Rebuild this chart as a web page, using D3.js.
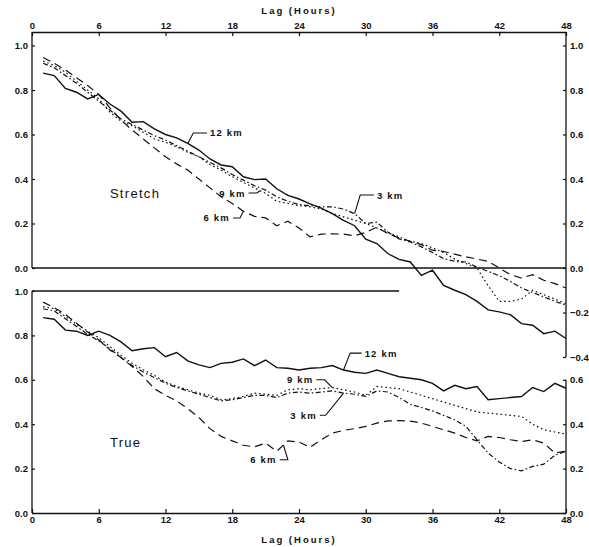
<!DOCTYPE html>
<html>
<head>
<meta charset="utf-8">
<script src="https://cdn.jsdelivr.net/npm/d3@7"></script>
<style>
  body { margin: 0; background: #fff; }
  text { font-family: "Liberation Sans", "DejaVu Sans", sans-serif; fill: #111; }
  .tick text { font-size: 9.5px; font-weight: bold; }
  .tick line { stroke: #111; stroke-width: 1.2; }
</style>
</head>
<body>
<div id="chart"></div>
<script>
var w = 589, h = 547;

// lag in hours, 1..48
var lags = d3.range(1, 49);
var hourTicks = [0, 6, 12, 18, 24, 30, 36, 42, 48];

// "Stretch" panel
var stretch12 = [0.876,0.865,0.807,0.79,0.76,0.78,0.737,0.705,0.655,0.658,0.625,0.60,0.585,0.56,0.53,0.49,0.463,0.455,0.41,0.397,
  0.40,0.356,0.326,0.31,0.288,0.269,0.244,0.214,0.19,0.13,0.11,0.064,0.039,0.027,-0.033,-0.01,-0.078,-0.10,-0.12,-0.15,
  -0.188,-0.197,-0.21,-0.25,-0.257,-0.295,-0.284,-0.317];
var stretch9 = [0.93,0.91,0.88,0.84,0.80,0.76,0.70,0.66,0.64,0.61,0.58,0.565,0.545,0.52,0.50,0.465,0.44,0.41,0.385,0.36,
  0.335,0.30,0.29,0.28,0.275,0.265,0.245,0.23,0.215,0.20,0.18,0.16,0.14,0.12,0.11,0.09,0.07,0.04,0.02,0.0,
  -0.08,-0.15,-0.15,-0.14,-0.10,-0.12,-0.14,-0.16];
var stretch6 = [0.946,0.92,0.89,0.855,0.82,0.78,0.72,0.665,0.62,0.58,0.54,0.50,0.468,0.44,0.40,0.36,0.32,0.29,0.255,0.232,
  0.225,0.19,0.21,0.18,0.14,0.152,0.154,0.152,0.145,0.16,0.184,0.154,0.135,0.12,0.105,0.08,0.074,0.062,0.05,0.04,
  0.03,0.0,-0.03,-0.045,-0.03,-0.055,-0.07,-0.09];
var stretch3 = [0.92,0.90,0.865,0.83,0.79,0.75,0.71,0.67,0.645,0.62,0.595,0.575,0.55,0.525,0.50,0.475,0.45,0.42,0.395,0.37,
  0.35,0.32,0.30,0.285,0.28,0.275,0.275,0.265,0.244,0.20,0.206,0.161,0.131,0.117,0.095,0.07,0.042,0.03,0.027,0.004,
  -0.015,-0.035,-0.06,-0.09,-0.11,-0.13,-0.15,-0.167];

// "True" panel
var true12 = [0.88,0.873,0.824,0.819,0.80,0.819,0.80,0.771,0.731,0.74,0.745,0.704,0.723,0.685,0.667,0.655,0.674,0.679,0.694,0.664,
  0.689,0.655,0.652,0.644,0.652,0.655,0.664,0.644,0.634,0.629,0.644,0.629,0.614,0.607,0.60,0.584,0.55,0.575,0.56,0.57,
  0.51,0.515,0.52,0.525,0.565,0.547,0.584,0.562];
var true9 = [0.93,0.92,0.885,0.85,0.82,0.79,0.75,0.71,0.675,0.645,0.62,0.59,0.57,0.555,0.54,0.53,0.51,0.515,0.525,0.54,
  0.535,0.53,0.555,0.56,0.555,0.56,0.565,0.555,0.545,0.53,0.57,0.565,0.56,0.545,0.53,0.515,0.50,0.485,0.47,0.455,
  0.45,0.445,0.44,0.435,0.40,0.375,0.365,0.355];
var true6 = [0.95,0.925,0.895,0.855,0.815,0.78,0.735,0.70,0.66,0.615,0.56,0.53,0.505,0.47,0.43,0.38,0.345,0.325,0.305,0.298,
  0.315,0.278,0.325,0.32,0.296,0.33,0.36,0.372,0.38,0.39,0.405,0.415,0.416,0.414,0.405,0.39,0.375,0.36,0.34,0.325,
  0.345,0.34,0.33,0.322,0.33,0.315,0.27,0.278];
var true3 = [0.92,0.91,0.875,0.84,0.805,0.775,0.74,0.70,0.665,0.635,0.61,0.585,0.565,0.55,0.535,0.52,0.505,0.51,0.52,0.53,
  0.53,0.52,0.54,0.545,0.54,0.545,0.55,0.54,0.535,0.525,0.55,0.545,0.52,0.49,0.475,0.46,0.44,0.42,0.39,0.33,
  0.27,0.23,0.20,0.19,0.21,0.22,0.26,0.278];

var styles = {
  "12 km": "none",
  "9 km": "1.6,2.8",
  "6 km": "8,5",
  "3 km": "5,2.5,1.5,2.5"
};

var svg = d3.select("#chart").append("svg")
  .attr("width", w)
  .attr("height", h);

var x = d3.scaleLinear().domain([0, 48]).range([32, 566]);
var yTop = d3.scaleLinear().domain([0, 1]).range([268, 45.5]);
var yBot = d3.scaleLinear().domain([0, 1]).range([513, 291]);

function drawSeries(values, yScale, name) {
  var line = d3.line()
    .x(function(d, i) { return x(lags[i]); })
    .y(function(d) { return yScale(d); });
  svg.append("path")
    .datum(values)
    .attr("d", line)
    .attr("fill", "none")
    .attr("stroke", "#111")
    .attr("stroke-width", name == "12 km" ? 1.4 : 1.2)
    .attr("stroke-dasharray", styles[name]);
}

drawSeries(stretch12, yTop, "12 km");
drawSeries(stretch9, yTop, "9 km");
drawSeries(stretch6, yTop, "6 km");
drawSeries(stretch3, yTop, "3 km");
drawSeries(true12, yBot, "12 km");
drawSeries(true9, yBot, "9 km");
drawSeries(true6, yBot, "6 km");
drawSeries(true3, yBot, "3 km");

// axis frame lines
function hline(y, x0, x1) {
  svg.append("line").attr("x1", x(x0)).attr("x2", x(x1)).attr("y1", y).attr("y2", y)
    .attr("stroke", "#111").attr("stroke-width", 1.3);
}
function vline(xp, y0, y1) {
  svg.append("line").attr("x1", xp).attr("x2", xp).attr("y1", y0).attr("y2", y1)
    .attr("stroke", "#111").attr("stroke-width", 1.3);
}
hline(yTop(0), 0, 48);   // zero line of upper panel
hline(yBot(1), 0, 33);   // top of lower panel
vline(x(0), 32, yTop(0));
vline(x(48), 32, yTop(-0.4));
vline(x(0), yBot(1), yBot(0));
vline(x(48), yBot(0.6), yBot(0));

var fmt = d3.format(".1f");

var topAxis = svg.append("g")
  .attr("transform", "translate(0,32)")
  .call(d3.axisTop(x).tickValues(hourTicks).tickSizeInner(-4).tickSizeOuter(0).tickPadding(3));
topAxis.select(".domain").attr("stroke", "#111").attr("stroke-width", 1.3);

var botAxis = svg.append("g")
  .attr("transform", "translate(0," + yBot(0) + ")")
  .call(d3.axisBottom(x).tickValues(hourTicks).tickSizeInner(-4).tickSizeOuter(0).tickPadding(3));
botAxis.select(".domain").attr("stroke", "#111").attr("stroke-width", 1.3);

function yAxis(axisFn, scale, vals, xp) {
  var g = svg.append("g")
    .attr("transform", "translate(" + xp + ",0)")
    .call(axisFn(scale).tickValues(vals).tickFormat(fmt).tickSizeInner(-3).tickSizeOuter(0).tickPadding(4));
  g.select(".domain").remove();
}
yAxis(d3.axisLeft, yTop, [0, 0.2, 0.4, 0.6, 0.8, 1.0], x(0));
yAxis(d3.axisRight, yTop, [-0.4, -0.2, 0, 0.2, 0.4, 0.6, 0.8, 1.0], x(48));
yAxis(d3.axisLeft, yBot, [0, 0.2, 0.4, 0.6, 0.8, 1.0], x(0));
yAxis(d3.axisRight, yBot, [0, 0.2, 0.4, 0.6], x(48));

// axis titles
svg.append("text").attr("x", x(24)).attr("y", 14)
  .attr("text-anchor", "middle").style("font-size", "9.5px").style("font-weight", "bold")
  .style("letter-spacing", "2px").text("Lag (Hours)");
svg.append("text").attr("x", x(24)).attr("y", 543)
  .attr("text-anchor", "middle").style("font-size", "9.5px").style("font-weight", "bold")
  .style("letter-spacing", "2px").text("Lag (Hours)");

// panel names
svg.append("text").attr("x", x(7)).attr("y", yTop(0.337) + 5)
  .style("font-size", "13px").style("letter-spacing", "1.3px").text("Stretch");
svg.append("text").attr("x", x(7)).attr("y", yBot(0.32) + 5)
  .style("font-size", "13px").style("letter-spacing", "1.3px").text("True");

// curve labels with leader lines
// [name, series, yScale, text lag, text value, anchor, elbow lag, tip lag]
var labels = [
  ["12 km", stretch12, yTop, 16.0, 0.607, "start", 14.5, 14],
  ["9 km", stretch9, yTop, 19.2, 0.337, "end", 20.2, 20.5],
  ["6 km", stretch6, yTop, 17.8, 0.225, "end", 18.7, 19],
  ["3 km", stretch3, yTop, 31.0, 0.328, "start", 29.5, 29],
  ["12 km", true12, yBot, 29.9, 0.72, "start", 28.6, 28],
  ["9 km", true9, yBot, 25.3, 0.60, "end", 26.3, 27],
  ["3 km", true3, yBot, 25.6, 0.44, "end", 26.4, 28],
  ["6 km", true6, yBot, 22.0, 0.24, "end", 23.0, 22.6]
];

labels.forEach(function(l) {
  var ys = l[2];
  var tipVal = d3.interpolateNumber(l[1][Math.floor(l[7]) - 1], l[1][Math.ceil(l[7]) - 1])(l[7] - Math.floor(l[7]));
  var tx = x(l[3]), ty = ys(l[4]);
  var gap = l[5] == "start" ? -3 : 3;
  svg.append("path")
    .attr("d", "M" + (tx + gap) + "," + ty + "L" + x(l[6]) + "," + ty + "L" + x(l[7]) + "," + ys(tipVal))
    .attr("fill", "none").attr("stroke", "#111").attr("stroke-width", 1.1);
  svg.append("text")
    .attr("x", tx).attr("y", ty + 3.5)
    .attr("text-anchor", l[5])
    .style("font-size", "9.5px").style("font-weight", "bold").style("letter-spacing", "1.2px")
    .text(l[0]);
});
</script>
</body>
</html>
